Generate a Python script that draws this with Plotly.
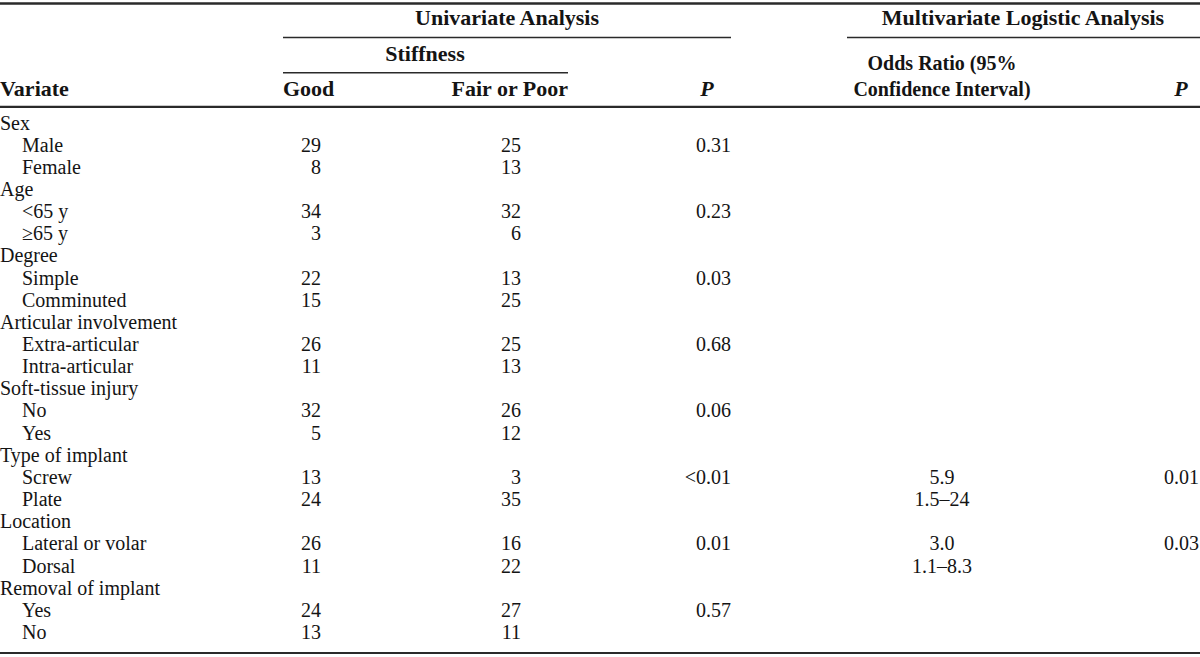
import plotly.graph_objects as go

# ---------------- data ----------------
variates = ["Sex", "Male", "Female", "Age", "<65 y", "≥65 y", "Degree", "Simple", "Comminuted",
            "Articular involvement", "Extra-articular", "Intra-articular", "Soft-tissue injury",
            "No", "Yes", "Type of implant", "Screw", "Plate", "Location", "Lateral or volar",
            "Dorsal", "Removal of implant", "Yes", "No"]
is_group = [True, False, False, True, False, False, True, False, False,
            True, False, False, True, False, False, True, False, False,
            True, False, False, True, False, False]
good = ["", "29", "8", "", "34", "3", "", "22", "15", "", "26", "11", "", "32", "5",
        "", "13", "24", "", "26", "11", "", "24", "13"]
fair_poor = ["", "25", "13", "", "32", "6", "", "13", "25", "", "25", "13", "", "26", "12",
             "", "3", "35", "", "16", "22", "", "27", "11"]
p_univariate = ["", "0.31", "", "", "0.23", "", "", "0.03", "", "", "0.68", "", "", "0.06", "",
                "", "<0.01", "", "", "0.01", "", "", "0.57", ""]
odds_ratio = ["", "", "", "", "", "", "", "", "", "", "", "", "", "", "",
              "", "5.9", "1.5–24", "", "3.0", "1.1–8.3", "", "", ""]
p_multivariate = ["", "", "", "", "", "", "", "", "", "", "", "", "", "", "",
                  "", "0.01", "", "", "0.03", "", "", "", ""]

# ---------------- layout helpers ----------------
W, H = 1200, 657
FONT = "Liberation Serif"
FS = 20          # body text
HFS = 22         # header text
COLOR = "#141414"
ROW0, ROWSTEP = 124.5, 22.15
row_y = [ROW0 + ROWSTEP * i for i in range(len(variates))]

fig = go.Figure()

def add_text(xs, ys, texts, pos, size=FS):
    fig.add_trace(go.Scatter(x=xs, y=ys, text=texts, mode="text", textposition=pos,
                             textfont=dict(family=FONT, size=size, color=COLOR),
                             cliponaxis=False, hoverinfo="skip", showlegend=False))

# variate labels
lab_x = [0 if g else 22 for g in is_group]
add_text(lab_x, row_y, variates, "middle right")

# numeric columns
def col(values, xr, pos="middle left"):
    idx = [i for i, v in enumerate(values) if v != ""]
    add_text([xr] * len(idx), [row_y[i] for i in idx], [values[i] for i in idx], pos)

col(good, 321)
col(fair_poor, 521)
col(p_univariate, 731)
col(odds_ratio, 942, "middle center")
col(p_multivariate, 1199)

# headers
add_text([507, 1023], [19.5, 19.5],
         ["<b>Univariate Analysis</b>", "<b>Multivariate Logistic Analysis</b>"], "middle center", HFS)
add_text([425], [55], ["<b>Stiffness</b>"], "middle center", HFS)
add_text([0, 283], [90, 90], ["<b>Variate</b>", "<b>Good</b>"], "middle right", HFS)
add_text([568], [90], ["<b>Fair or Poor</b>"], "middle left", HFS)
add_text([707, 1181], [90, 90], ["<b><i>P</i></b>", "<b><i>P</i></b>"], "middle center", HFS)
add_text([942], [77.5], ["<b>Odds Ratio (95%</b><br><b>Confidence Interval)</b>"], "middle center", 20)

# rules
rules = [
    (0, W, 3.5, 2.5),
    (283, 731, 37.5, 1.6),
    (847, W, 37.5, 1.6),
    (283, 568, 72.7, 1.6),
    (0, W, 106.8, 2.2),
    (0, W, 653, 2.2),
]
for x0, x1, y, w in rules:
    fig.add_shape(type="line", x0=x0, x1=x1, y0=y, y1=y, xref="x", yref="y",
                  line=dict(color="#2a2a2a", width=w))

fig.update_layout(
    width=W, height=H, margin=dict(l=0, r=0, t=0, b=0),
    paper_bgcolor="white", plot_bgcolor="white",
    xaxis=dict(range=[0, W], visible=False, fixedrange=True),
    yaxis=dict(range=[H, 0], visible=False, fixedrange=True),
)

fig.write_html("out.html", config={"displayModeBar": False},
               post_script="document.body.style.margin='0';document.body.style.overflow='hidden';")
